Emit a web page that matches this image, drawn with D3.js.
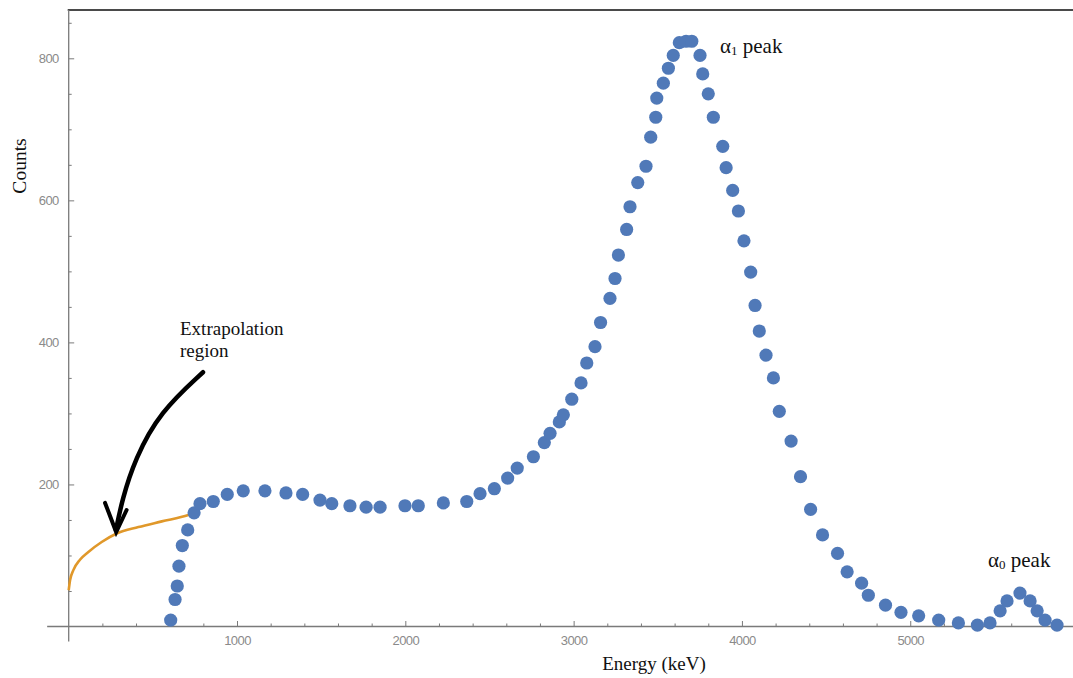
<!DOCTYPE html>
<html><head><meta charset="utf-8">
<script src="https://cdn.jsdelivr.net/npm/d3@7"></script>
<style>
html,body{margin:0;padding:0;background:#fff;}
svg{display:block;}
</style></head>
<body>
<svg id="chart" width="1073" height="678"></svg>
<script>
// ---- data ----
const energy = [606,632,645,655,675,707,745,780,859,942,1037,1166,1291,1390,1493,1563,1671,1767,1850,1998,2077,2226,2365,2444,2529,2608,2665,2761,2826,2860,2915,2939,2989,3044,3078,3127,3160,3216,3246,3266,3315,3335,3381,3430,3458,3488,3494,3533,3563,3592,3628,3668,3702,3751,3767,3800,3830,3886,3906,3945,3979,4012,4052,4078,4103,4143,4187,4222,4292,4348,4408,4479,4568,4625,4711,4751,4853,4945,5050,5169,5286,5399,5474,5534,5575,5652,5712,5754,5801,5872];
const counts = [9,38,57,85,114,136,160,173,176,186,191,191,188,186,178,173,170,168,168,170,170,174,176,187,194,209,223,239,259,272,288,298,320,343,371,394,428,462,490,523,559,591,625,648,689,717,744,765,786,804,822,824,824,804,778,750,717,676,646,614,585,543,499,452,416,382,350,303,261,211,165,129,103,77,61,44,30,20,15,9,5,2,5,22,36,47,36,22,9,2];

// extrapolated fit curve (orange)
const fitEnergy = [0,8,27,67,117,196,285,414,553,711,735];
const fitCounts = [51,65,79,94,105,119,131,140,148,157,159];

// annotation arrow, in data units
const arrowEnergy = [798,542,394,317,281];
const arrowCounts = [358,302,236,178,136];
const arrowHeadEnergy = [216,282,344];
const arrowHeadCounts = [174,133,164];

const xMajorTicks = [1000,2000,3000,4000,5000];
const yMajorTicks = [200,400,600,800];

// ---- layout ----
const W = 1073, H = 678;
const mLeft = 68.7, mRight = 1073, mTop = 10, mBottom = 626.5;
const svg = d3.select("#chart");

const x = d3.scaleLinear().domain([0, 5967]).range([mLeft, mRight]);
const y = d3.scaleLinear().domain([0, 868]).range([mBottom, mTop]);

const axisColor = "#7a7a7a";

// top border line
svg.append("line").attr("x1", mLeft - 1).attr("x2", W).attr("y1", mTop).attr("y2", mTop)
  .attr("stroke", "#4a4a4a").attr("stroke-width", 2.2);

// axis lines
svg.append("line").attr("x1", x(-128)).attr("x2", W).attr("y1", y(0)).attr("y2", y(0))
  .attr("stroke", axisColor).attr("stroke-width", 1.3);
svg.append("line").attr("x1", x(0)).attr("x2", x(0)).attr("y1", y(-21)).attr("y2", mTop)
  .attr("stroke", axisColor).attr("stroke-width", 1.3);

// x axis ticks
const xMinor = d3.range(200, 5967, 200).filter(v => v % 1000 !== 0);
const gxMinor = svg.append("g").attr("transform", `translate(0,${y(0)})`)
  .call(d3.axisBottom(x).tickValues(xMinor).tickSize(-3).tickFormat(""));
const gx = svg.append("g").attr("transform", `translate(0,${y(0)})`)
  .call(d3.axisBottom(x).tickValues(xMajorTicks).tickSize(-5.5).tickPadding(9).tickFormat(d3.format("d")));
[gx, gxMinor].forEach(g => {
  g.select(".domain").remove();
  g.selectAll("line").attr("stroke", axisColor);
});
gx.selectAll("text").attr("fill", "#8a8a8a").style("font-family", "'Liberation Sans', Arial, sans-serif")
  .style("font-size", "13px").style("letter-spacing", "-0.6px");

// y axis ticks
const yMinor = d3.range(50, 868, 50).filter(v => v % 200 !== 0);
const gyMinor = svg.append("g").attr("transform", `translate(${x(0)},0)`)
  .call(d3.axisLeft(y).tickValues(yMinor).tickSize(-3).tickFormat(""));
const gy = svg.append("g").attr("transform", `translate(${x(0)},0)`)
  .call(d3.axisLeft(y).tickValues(yMajorTicks).tickSize(-5.5).tickPadding(10).tickFormat(d3.format("d")));
[gy, gyMinor].forEach(g => {
  g.select(".domain").remove();
  g.selectAll("line").attr("stroke", axisColor);
});
gy.selectAll("text").attr("fill", "#8a8a8a").style("font-family", "'Liberation Sans', Arial, sans-serif")
  .style("font-size", "13px").style("letter-spacing", "-0.6px");

// axis labels
const serif = "'Liberation Serif', 'Times New Roman', serif";
svg.append("text").attr("x", 654).attr("y", 670)
  .attr("text-anchor", "middle").style("font-family", serif).style("font-size", "19px")
  .attr("fill", "#111").text("Energy (keV)");
svg.append("text").attr("transform", `translate(26,166) rotate(-90)`)
  .attr("text-anchor", "middle").style("font-family", serif).style("font-size", "19.5px")
  .attr("fill", "#111").text("Counts");

// orange extrapolation curve
const fitData = fitEnergy.map((e, i) => [e, fitCounts[i]]);
svg.append("path").datum(fitData)
  .attr("d", d3.line().x(d => x(d[0])).y(d => y(d[1])).curve(d3.curveMonotoneX))
  .attr("fill", "none").attr("stroke", "#e0982a").attr("stroke-width", 2.6);

// data points
const pts = energy.map((e, i) => ({e, c: counts[i]}));
svg.append("g").selectAll("circle").data(pts).join("circle")
  .attr("cx", d => x(d.e)).attr("cy", d => y(d.c)).attr("r", 6.6)
  .attr("fill", "#5079b8");

// arrow annotation
const arrowData = arrowEnergy.map((e, i) => [e, arrowCounts[i]]);
svg.append("path").datum(arrowData)
  .attr("d", d3.line().x(d => x(d[0])).y(d => y(d[1])).curve(d3.curveBasis))
  .attr("fill", "none").attr("stroke", "#000").attr("stroke-width", 4.5).attr("stroke-linecap", "round");
const headData = arrowHeadEnergy.map((e, i) => [e, arrowHeadCounts[i]]);
svg.append("path").datum(headData)
  .attr("d", d3.line().x(d => x(d[0])).y(d => y(d[1])))
  .attr("fill", "none").attr("stroke", "#000").attr("stroke-width", 4)
  .attr("stroke-linejoin", "miter").attr("stroke-linecap", "round");

// text annotations
svg.append("text").attr("x", 180).attr("y", 335).style("font-family", serif).style("font-size", "19px")
  .attr("fill", "#111").text("Extrapolation");
svg.append("text").attr("x", 180).attr("y", 357).style("font-family", serif).style("font-size", "19px")
  .attr("fill", "#111").text("region");

function peakLabel(px, py, sub) {
  const t = svg.append("text").attr("x", px).attr("y", py).style("font-family", serif)
    .style("font-size", "21px").attr("fill", "#111");
  t.append("tspan").text("α");
  t.append("tspan").attr("font-size", "13px").attr("dy", 2).text(sub);
  t.append("tspan").attr("dy", -2).text(" peak");
}
peakLabel(720, 53, "1");
peakLabel(988, 567, "0");
</script>
</body></html>
